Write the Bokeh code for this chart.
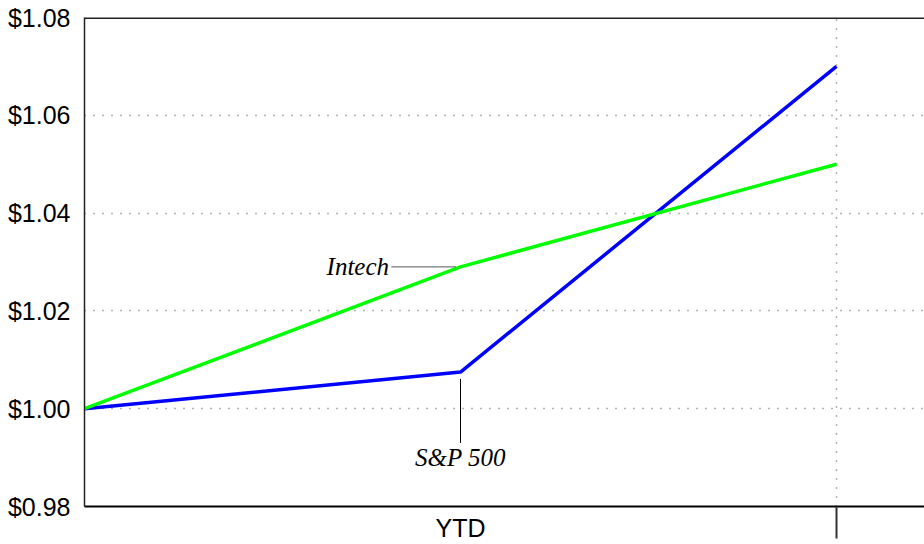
from bokeh.plotting import figure
from bokeh.models import Range1d, FixedTicker, NumeralTickFormatter, LinearAxis, Grid
from bokeh.core.properties import value
from bokeh.embed import file_html
from bokeh.resources import INLINE

# Data
periods = [0, 1, 2]
period_label = "YTD"
intech = [1.000, 1.029, 1.050]
sp500 = [1.000, 1.0075, 1.070]
y_ticks = [0.98, 1.00, 1.02, 1.04, 1.06, 1.08]
grid_ticks = [1.00, 1.02, 1.04, 1.06]

X_END = 2.234

p = figure(width=924, height=544, output_backend="svg", toolbar_location=None,
           x_range=Range1d(0, X_END), y_range=Range1d(0.98, 1.08),
           min_border_left=84, min_border_right=0, min_border_top=17, min_border_bottom=38,
           outline_line_color=None, x_axis_type=None, y_axis_type=None)
p.background_fill_color = "white"
p.border_fill_color = "white"

# grids
ygrid = Grid(dimension=1, ticker=FixedTicker(ticks=grid_ticks),
             grid_line_color="#666666", grid_line_dash="1 8", grid_line_width=1.5)
xgrid = Grid(dimension=0, ticker=FixedTicker(ticks=[periods[2]]),
             grid_line_color="#666666", grid_line_dash="1 8", grid_line_width=1.5)
p.add_layout(ygrid, "center")
p.add_layout(xgrid, "center")

# y axis
yax = LinearAxis(ticker=FixedTicker(ticks=y_ticks, minor_ticks=[]),
                 formatter=NumeralTickFormatter(format="$0.00"))
yax.major_tick_out = 0
yax.major_tick_in = 0
yax.major_label_standoff = 14
yax.major_label_text_font = "Liberation Sans"
yax.major_label_text_font_size = "25px"
yax.major_label_text_color = "black"
yax.axis_line_color = "#222222"
yax.axis_line_width = 1.5
p.add_layout(yax, "left")

# x axis: period label in the middle, tick mark at the period end
xax = LinearAxis(ticker=FixedTicker(ticks=[periods[1]], minor_ticks=[periods[2]]))
xax.major_label_overrides = {periods[1]: period_label}
xax.major_tick_out = 0
xax.major_tick_in = 0
xax.minor_tick_out = 32
xax.minor_tick_in = 0
xax.minor_tick_line_color = "#333333"
xax.minor_tick_line_width = 2
xax.major_label_standoff = -25
xax.major_label_text_font = "Liberation Sans"
xax.major_label_text_font_size = "25px"
xax.major_label_text_color = "black"
xax.axis_line_color = "black"
xax.axis_line_width = 2
p.add_layout(xax, "below")

# top frame line
p.segment(x0=[periods[0]], y0=[y_ticks[-1]], x1=[X_END], y1=[y_ticks[-1]],
          line_color="#222222", line_width=3)

# series
p.line(periods, sp500, line_color="#0000ff", line_width=3.5)
p.line(periods, intech, line_color="#00ff00", line_width=3.5)

# Intech callout
p.segment(x0=[periods[1] - 0.184], y0=[intech[1]], x1=[periods[1] - 0.012], y1=[intech[1]],
          line_color="#555555", line_width=1)
p.text(x=[periods[1] - 0.19], y=[intech[1]], text=["Intech"],
       text_font=value("Liberation Serif"), text_font_style="italic",
       text_font_size="25px", text_align="right", text_baseline="middle", text_color="black")

# S&P callout
p.segment(x0=[periods[1]], y0=[sp500[1] - 0.0014], x1=[periods[1]], y1=[sp500[1] - 0.0145],
          line_color="black", line_width=1)
p.text(x=[periods[1]], y=[sp500[1] - 0.0175], text=["S&P 500"],
       text_font=value("Liberation Serif"), text_font_style="italic",
       text_font_size="25px", text_align="center", text_baseline="middle", text_color="black")

open("out.html", "w").write(file_html(p, INLINE))
